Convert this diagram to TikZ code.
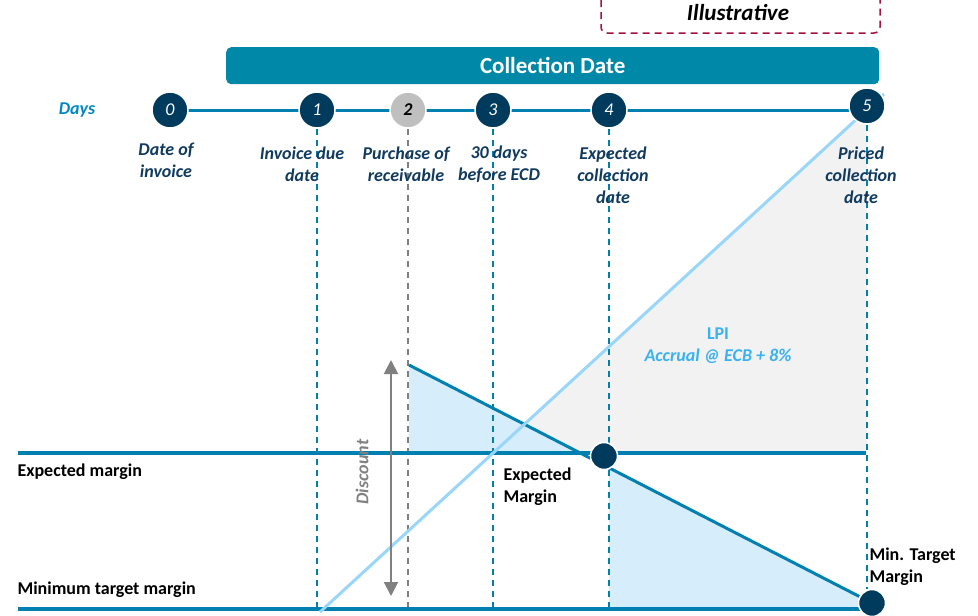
\documentclass[tikz,border=0pt]{standalone}
\usepackage{fontspec}
\setmainfont{Carlito}
\usetikzlibrary{arrows.meta, backgrounds}

\definecolor{barteal}{RGB}{0,136,168}
\definecolor{lineteal}{RGB}{0,128,176}
\definecolor{daynavy}{RGB}{0,58,93}
\definecolor{labelnavy}{RGB}{16,58,94}
\definecolor{skyline}{RGB}{153,214,250}
\definecolor{skyfill}{RGB}{214,237,251}
\definecolor{lpigray}{RGB}{242,242,242}
\definecolor{lpitext}{RGB}{58,178,240}
\definecolor{crimson}{RGB}{165,18,63}
\definecolor{daysblue}{RGB}{0,136,196}
\definecolor{dotgray}{RGB}{191,191,191}
\definecolor{arrowgray}{RGB}{128,128,128}

\tikzset{
    day/.style={circle, fill=daynavy, draw=white, line width=1.5pt, minimum size=36pt,
        inner sep=0pt, text=white, font=\itshape\fontsize{18}{20}\selectfont},
    dot/.style={circle, fill=daynavy, draw=white, line width=1.5pt, minimum size=27pt, inner sep=0pt},
    daylabel/.style={align=center, text=labelnavy, font=\bfseries\itshape\fontsize{18}{22}\selectfont},
    marginlabel/.style={anchor=west, align=left, font=\bfseries\fontsize{18}{22}\selectfont},
    guide/.style={lineteal, line width=1.5pt, dash pattern=on 6pt off 5pt},
    margin/.style={lineteal, line width=3.5pt},
}

\begin{document}
\begin{tikzpicture}[x=1pt, y=-1pt]
    \useasboundingbox (0,0) rectangle (978,616);

    % Illustrative tag, cut at the top
    \draw[crimson, line width=1.5pt, dash pattern=on 7pt off 5pt, rounded corners=6pt]
        (601,0) -- (601,33) -- (880,33) -- (880,0);
    \node[font=\bfseries\itshape\fontsize{23}{26}\selectfont] (tag) at (738,13) {Illustrative};

    % Collection date bar
    \node[fill=barteal, rounded corners=5pt, anchor=north west, minimum width=653pt,
        minimum height=37pt, text=white, font=\bfseries\fontsize{23}{26}\selectfont]
        (bar) at (226,47) {Collection Date};

    % Day markers
    \foreach \n/\x in {0/170,1/317,3/493,4/609}
    {
        \node[day] (d\n) at (\x,110) {\n};
    }
    \node[day, fill=dotgray, text=black, font=\bfseries\itshape\fontsize{18}{20}\selectfont] (d2) at (408,110) {2};
    \node[day] (d5) at (867,106) {5};

    % Margin points
    \node[dot] (emark) at (604,456) {};
    \node[dot] (mtarget) at (872,603) {};
    \coordinate (em-l) at (18,453);
    \coordinate (em-r) at (866,453);
    \coordinate (mt-l) at (18,609);
    \coordinate (disc-top) at (409,365);
    \coordinate (lpi-low) at (320,612);
    \coordinate (lpi-high) at (884,94);

    \begin{scope}[on background layer]
        % Shaded areas
        \fill[lpigray] (493,453) -- (867,110) -- (867,453) -- cycle;
        \fill[skyfill] (disc-top) -- (409,453) -- (580,453) -- cycle;
        \fill[skyfill] (609,468) -- (866,600) -- (866,609) -- (609,609) -- cycle;

        % Vertical guides down from the days
        \foreach \n in {1,3,4}
        {
            \draw[guide] (d\n.south) -- (d\n |- mt-l);
        }
        \draw[guide, arrowgray] (d2.south) -- (d2 |- mt-l);
        \draw[guide] (d5.south) -- (d5 |- mtarget.north);

        % Margin lines
        \draw[margin] (em-l) -- (em-r);
        \draw[margin] (mt-l) -- (mtarget.center |- mt-l);

        % Discount decline and interest accrual
        \draw[lineteal, line width=3pt] (disc-top) -- (mtarget);
        \draw[skyline, line width=3pt] (lpi-low) -- (lpi-high);

        % Timeline
        \draw[lineteal, line width=3pt] (d0.center) -- (d5.center |- d0.center);
    \end{scope}

    % Discount arrow
    \draw[arrowgray, line width=2pt, {Triangle[width=14pt,length=14pt]}-{Triangle[width=14pt,length=14pt]}]
        (391,360) -- (391,596);
    \node[rotate=90, text=arrowgray, font=\bfseries\itshape\fontsize{18}{20}\selectfont] (disc) at (362,472) {Discount};

    % Labels
    \node[text=daysblue, font=\bfseries\itshape\fontsize{18}{20}\selectfont] (days) at (77,110) {Days};
    \node[daylabel] (l0) at (166,160) {Date of\\invoice};
    \node[daylabel] (l1) at (302,164) {Invoice due\\date};
    \node[daylabel] (l2) at (406,164) {Purchase of\\receivable};
    \node[daylabel] (l3) at (499,164) {30 days\\before ECD};
    \node[daylabel] (l4) at (613,175) {Expected\\collection\\date};
    \node[daylabel] (l5) at (861,175) {Priced\\collection\\date};

    \node[marginlabel] (em-text) at (14,472) {Expected margin};
    \node[marginlabel] (mt-text) at (14,590) {Minimum target margin};
    \node[marginlabel] (em-dot) at (500,487) {Expected\\Margin};
    \node[marginlabel] (mt-dot) at (866,567) {Min. Target\\Margin};

    \node[align=center, text=lpitext, font=\bfseries\fontsize{18}{22}\selectfont] (lpi) at (718,346)
        {LPI\\\itshape Accrual @ ECB + 8\%};
\end{tikzpicture}
\end{document}
